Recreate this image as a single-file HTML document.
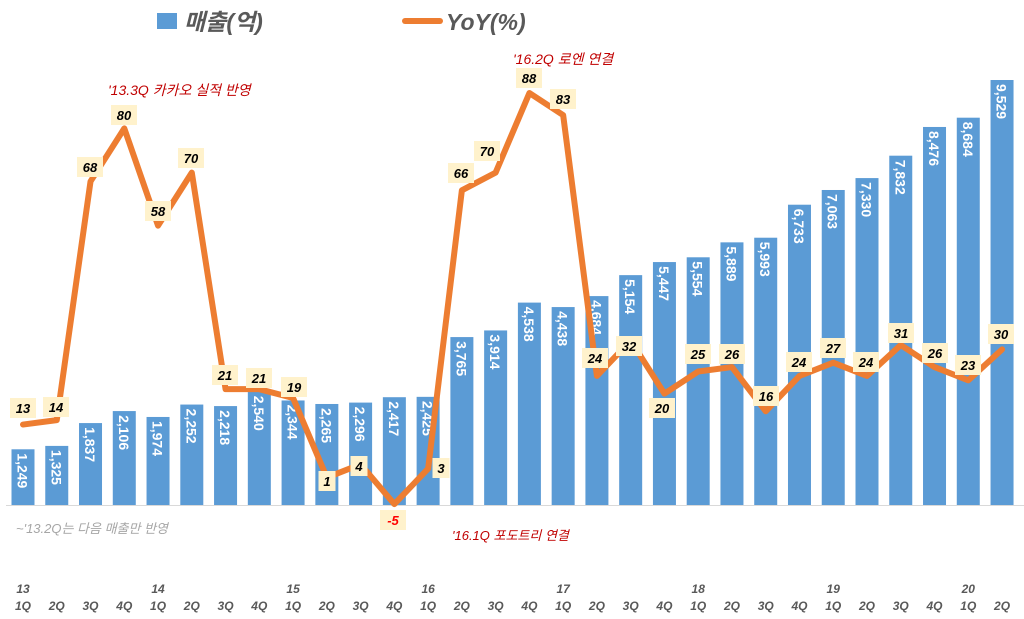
<!DOCTYPE html>
<html><head><meta charset="utf-8"><style>
body{margin:0;background:#fff;}
svg{display:block;font-family:"Liberation Sans","Noto Sans CJK KR",sans-serif;}
</style></head><body>
<svg id="c" width="1024" height="619" xmlns="http://www.w3.org/2000/svg"></svg>
<script>
const rev=[1249,1325,1837,2106,1974,2252,2218,2540,2344,2265,2296,2417,2425,3765,3914,4538,4438,4684,5154,5447,5554,5889,5993,6733,7063,7330,7832,8476,8684,9529];
const yoy=[13,14,68,80,58,70,21,21,19,1,4,-5,3,66,70,88,83,24,32,20,25,26,16,24,27,24,31,26,23,30];
const lp=[[23,408],[56,407],[90,167],[124,115],[158,211],[191,158],[225,375],[259,378],[294,387],[327,481],[359,466],[393,520],[441,468],[461,173],[487,151],[529,78],[563,99],[595,358],[629,346],[662,408],[698,354],[732,354],[766,396],[799,362],[833,348],[866,362],[901,333],[935,353],[968,365],[1001,334]];
const q=["1Q","2Q","3Q","4Q"];
let s='';
const cx=i=>23+i*33.76;
const base=505;
s+=`<rect x="157" y="13" width="20" height="16" fill="#5b9bd5"/><text x="184" y="30" font-size="23" font-weight="bold" font-style="italic" fill="#595959">매출(억)</text>`;
s+=`<line x1="405" y1="21" x2="440" y2="21" stroke="#ed7d31" stroke-width="6" stroke-linecap="round"/><text x="446" y="30" font-size="23" font-weight="bold" font-style="italic" fill="#595959">YoY(%)</text>`;
rev.forEach((v,i)=>{const h=v*0.0446;const x=cx(i);
s+=`<rect x="${x-11.5}" y="${base-h}" width="23" height="${h}" fill="#5b9bd5"/>`;
s+=`<text transform="translate(${x-5.5},${base-h+4}) rotate(90)" font-size="14" font-weight="bold" fill="#fff">${v.toLocaleString('en-US')}</text>`;
const yr=13+Math.floor(i/4);
if(i%4==0)s+=`<text x="${x}" y="593" font-size="12" font-weight="bold" font-style="italic" fill="#595959" text-anchor="middle">${yr}</text>`;
s+=`<text x="${x}" y="610" font-size="12" font-weight="bold" font-style="italic" fill="#595959" text-anchor="middle">${q[i%4]}</text>`;
});
s+=`<line x1="6" y1="505.5" x2="1024" y2="505.5" stroke="#d9d9d9" stroke-width="1"/>`;
const pts=yoy.map((v,i)=>`${cx(i)},${482-v*4.42}`).join(' ');
s+=`<polyline points="${pts}" fill="none" stroke="#ed7d31" stroke-width="6" stroke-linejoin="round" stroke-linecap="round"/>`;
yoy.forEach((v,i)=>{const [x,y]=lp[i];const w=String(v).length*9+8;
s+=`<rect x="${x-w/2}" y="${y-10}" width="${w}" height="20" fill="#fff2cc"/><text x="${x}" y="${y+5}" font-size="13" font-weight="bold" font-style="italic" fill="${v<0?'#ff0000':'#000'}" text-anchor="middle">${v}</text>`;});
s+=`<text x="108" y="95" font-size="14" font-style="italic" fill="#c00000">'13.3Q 카카오 실적 반영</text>`;
s+=`<text x="513" y="64" font-size="14" font-style="italic" fill="#c00000">'16.2Q 로엔 연결</text>`;
s+=`<text x="452" y="540" font-size="13" font-style="italic" fill="#c00000">'16.1Q 포도트리 연결</text>`;
s+=`<text x="16" y="533" font-size="13" font-style="italic" fill="#a6a6a6">~'13.2Q는 다음 매출만 반영</text>`;
document.getElementById('c').innerHTML=s;
</script>
</body></html>
